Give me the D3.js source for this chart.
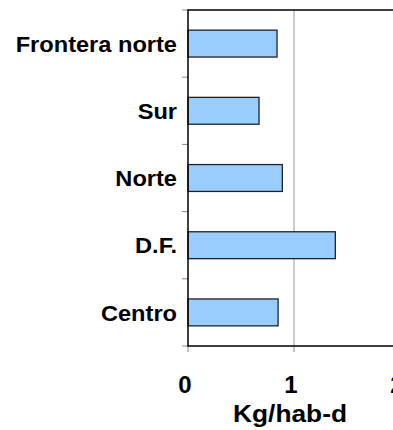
<!DOCTYPE html>
<html>
<head>
<meta charset="utf-8">
<script src="https://cdn.jsdelivr.net/npm/d3@7"></script>
<style>
  html, body { margin: 0; padding: 0; background: #fff; }
  svg { display: block; }
  text { font-family: "Liberation Sans", Arial, sans-serif; font-weight: bold; fill: #000; }
</style>
</head>
<body>
<svg id="chart" width="393" height="430"></svg>
<script>
// Regions, listed top to bottom
const regions = ["Frontera norte", "Sur", "Norte", "D.F.", "Centro"];
// Per-capita waste generation (kg per inhabitant per day)
const kgPerHabDay = [0.84, 0.67, 0.89, 1.39, 0.85];
const xTicks = [0, 1, 2];
const xTitle = "Kg/hab-d";

const svg = d3.select("#chart");
const plot = { left: 188, top: 10, bottom: 346 };

const x = d3.scaleLinear().domain([0, 2]).range([plot.left, plot.left + 212]);
const y = d3.scaleBand().domain(regions).range([plot.top, plot.bottom]).paddingInner(0.6).paddingOuter(0.3);
const yBands = d3.scaleBand().domain(regions).range([plot.top, plot.bottom]);

// vertical gridline at 1
svg.append("g").selectAll("line")
  .data(xTicks.filter(t => t > 0))
  .join("line")
  .attr("x1", d => x(d)).attr("x2", d => x(d))
  .attr("y1", plot.top).attr("y2", plot.bottom)
  .attr("stroke", "#999").attr("stroke-width", 1);

// left tick marks between categories
const yTickPos = regions.map(r => yBands(r)).concat([plot.bottom]);
svg.append("g").selectAll("line")
  .data(yTickPos)
  .join("line")
  .attr("x1", plot.left - 6).attr("x2", plot.left)
  .attr("y1", d => d).attr("y2", d => d)
  .attr("stroke", "#888").attr("stroke-width", 1);

// bottom tick marks
svg.append("g").selectAll("line")
  .data(xTicks)
  .join("line")
  .attr("x1", d => x(d)).attr("x2", d => x(d))
  .attr("y1", plot.bottom).attr("y2", plot.bottom + 6)
  .attr("stroke", "#888").attr("stroke-width", 1);

// bars
svg.append("g").selectAll("rect")
  .data(regions.map((r, i) => ({ r, v: kgPerHabDay[i] })))
  .join("rect")
  .attr("x", x(0))
  .attr("y", d => y(d.r))
  .attr("width", d => x(d.v) - x(0))
  .attr("height", y.bandwidth())
  .attr("fill", "#99ccff")
  .attr("stroke", "#222")
  .attr("stroke-width", 1.3);

// frame: top, left, bottom, right
svg.append("rect")
  .attr("x", x(0)).attr("y", plot.top)
  .attr("width", x(2) - x(0)).attr("height", plot.bottom - plot.top)
  .attr("fill", "none").attr("stroke", "#000").attr("stroke-width", 1.5);

// category labels (slightly widened glyphs)
svg.append("g").selectAll("text")
  .data(regions)
  .join("text")
  .attr("transform", d => `translate(${plot.left - 11},${yBands(d) + yBands.bandwidth() / 2}) scale(1.05,1)`)
  .attr("dy", "0.36em")
  .attr("text-anchor", "end")
  .attr("font-size", 22.5)
  .text(d => d);

// x tick labels
svg.append("g").selectAll("text")
  .data(xTicks)
  .join("text")
  .attr("x", d => x(d) - 3)
  .attr("y", 393)
  .attr("text-anchor", "middle")
  .attr("font-size", 24)
  .text(d => d);

// x axis title
svg.append("text")
  .attr("transform", "translate(290,422) scale(1.12,1)")
  .attr("text-anchor", "middle")
  .attr("font-size", 23.5)
  .text(xTitle);
</script>
</body>
</html>
